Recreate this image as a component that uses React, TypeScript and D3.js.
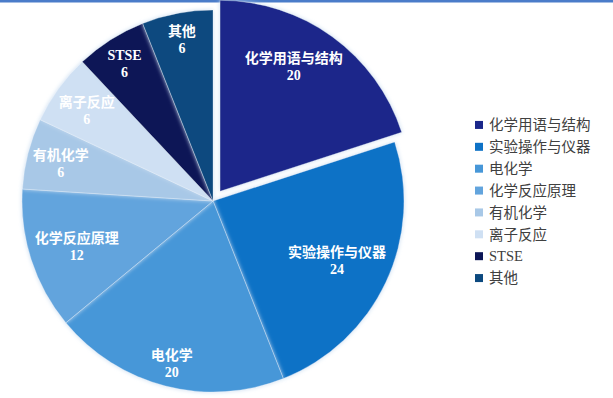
import React, { useRef, useEffect } from "react";
import * as d3 from "d3";

// chart data
const categories = ["化学用语与结构", "实验操作与仪器", "电化学", "化学反应原理", "有机化学", "离子反应", "STSE", "其他"];
const values = [20, 24, 20, 12, 6, 6, 6, 6];
const colors = ["#1a278a", "#0e72c6", "#4797d8", "#62a4dd", "#a8c8e7", "#cfe0f3", "#0c1656", "#0c497f"];

const W = 613;
const H = 398;

const App = () => {
    const svgRef = useRef<SVGSVGElement>(null);

    useEffect(() => {
        const svg = d3.select(svgRef.current);
        svg.selectAll("*").remove();

        const cx = 213;
        const cy = 201;
        const R = 191;
        const explode = 12;

        // top border strip
        svg.append("rect").attr("x", 0).attr("y", 0).attr("width", W).attr("height", 2.5).attr("fill", "#4a7cc9");

        const defs = svg.append("defs");
        const glow = defs.append("filter").attr("id", "glow").attr("x", "-10%").attr("y", "-10%").attr("width", "120%").attr("height", "120%");
        glow.append("feGaussianBlur").attr("in", "SourceAlpha").attr("stdDeviation", 2).attr("result", "b");
        glow.append("feFlood").attr("flood-color", "#c9dcf0").attr("result", "c");
        glow.append("feComposite").attr("in", "c").attr("in2", "b").attr("operator", "in").attr("result", "s");
        const merge = glow.append("feMerge");
        merge.append("feMergeNode").attr("in", "s");
        merge.append("feMergeNode").attr("in", "SourceGraphic");

        const pie = d3.pie<number>().sort(null).value(d => d);
        const arcs = pie(values);
        const arc = d3.arc<d3.PieArcDatum<number>>().innerRadius(0).outerRadius(R);

        const g = svg.append("g").attr("transform", `translate(${cx},${cy})`);

        const offset = (d: d3.PieArcDatum<number>, i: number) => {
            if (i !== 0) return [0, 0];
            const a = (d.startAngle + d.endAngle) / 2;
            return [Math.sin(a) * explode, -Math.cos(a) * explode];
        };

        g.selectAll("path")
            .data(arcs)
            .enter()
            .append("path")
            .attr("d", arc)
            .attr("transform", (d, i) => { const o = offset(d, i); return `translate(${o[0]},${o[1]})`; })
            .attr("fill", (d, i) => colors[i])
            .attr("stroke", "#ffffff")
            .attr("stroke-opacity", 0.35)
            .attr("stroke-width", 0.8)
            .attr("filter", "url(#glow)");

        // labels: pull inward until the text box (roughly) fits inside the pie
        const fs = 14;
        const lineH = 17;
        arcs.forEach((d, i) => {
            const mid = (d.startAngle + d.endAngle) / 2;
            const a = i === 0 ? mid - 0.1 : mid;
            const name = categories[i];
            const cjk = /[^\x00-\x7f]/.test(name);
            const w = cjk ? name.length * fs : name.length * fs * 0.62;
            const h = lineH * 2;
            let r = R * 0.87;
            const fits = (rr: number) => {
                const px = Math.sin(a) * rr;
                const py = -Math.cos(a) * rr;
                for (const sx of [-1, 1]) for (const sy of [-1, 1]) {
                    const x = px + sx * w / 2;
                    const y = py + sy * h / 2;
                    if (Math.hypot(x, y) > R - 2) return false;
                }
                return true;
            };
            while (r > R * 0.5 && !fits(r)) r -= 1;
            const o = offset(d, i);
            const px = Math.sin(a) * r + o[0];
            const py = -Math.cos(a) * r + o[1];
            const t = g.append("text")
                .attr("text-anchor", "middle")
                .attr("fill", "#ffffff")
                .attr("font-family", "'Liberation Serif', 'Noto Sans CJK SC', serif")
                .attr("font-weight", "bold")
                .attr("font-size", fs);
            t.append("tspan").attr("x", px).attr("y", py - 2).text(name);
            t.append("tspan").attr("x", px).attr("y", py + lineH - 2).text(values[i]);
        });

        // legend
        const legendY = d3.scaleBand<number>().domain(d3.range(categories.length)).range([114, 289]);
        const lg = svg.append("g").attr("transform", "translate(475,0)");
        const item = lg.selectAll("g.item")
            .data(categories)
            .enter()
            .append("g")
            .attr("class", "item")
            .attr("transform", (d, i) => `translate(0,${legendY(i)! + legendY.bandwidth() / 2})`);
        item.append("rect")
            .attr("x", 0)
            .attr("y", -4)
            .attr("width", 8)
            .attr("height", 8)
            .attr("fill", (d, i) => colors[i]);
        item.append("text")
            .attr("x", 14)
            .attr("y", 0)
            .attr("dy", "0.36em")
            .attr("fill", "#404040")
            .attr("font-family", "'Liberation Serif', 'Noto Sans CJK SC', serif")
            .attr("font-size", 14.5)
            .text(d => d);
    }, []);

    return (
        <div style={{ position: "fixed", left: 0, top: 0, width: W, height: H, background: "#ffffff" }}>
            <svg ref={svgRef} width={W} height={H}></svg>
        </div>
    );
};

export default App;
